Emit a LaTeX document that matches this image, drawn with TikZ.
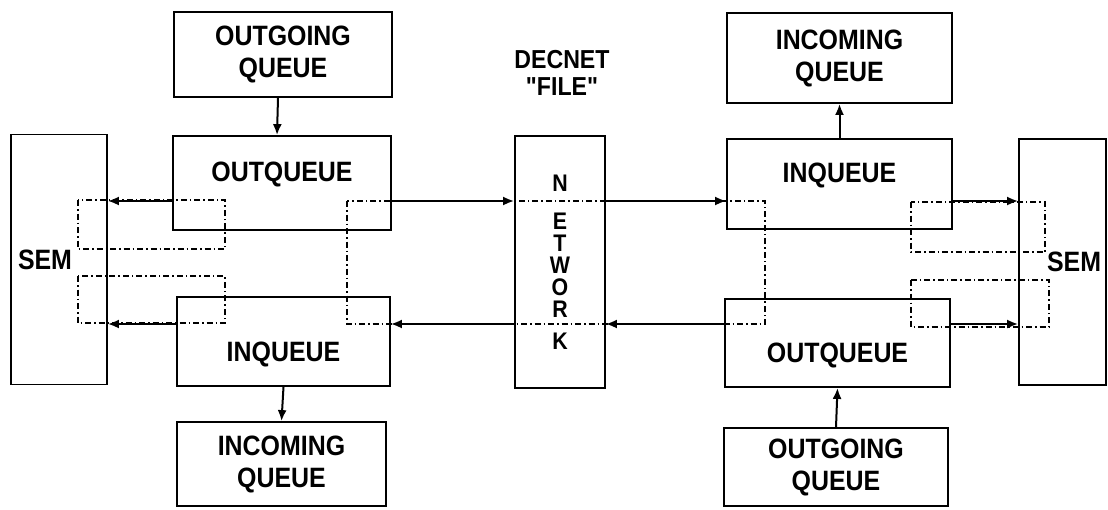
\documentclass[tikz,border=0pt]{standalone}
\usepackage{fontspec}
\setmainfont{Liberation Sans}[FakeStretch=0.89, Ligatures=TeXOff]
\usetikzlibrary{positioning, arrows.meta}

\begin{document}
\begin{tikzpicture}[
  x=1pt, y=-1pt,
  box/.style={
    draw, line width=1.8pt, inner sep=0pt,
    font=\fontsize{28}{32}\selectfont\bfseries, align=center
  },
  qtop/.style={box, text height=21pt, text depth=24pt},
  qbot/.style={box, text height=39pt, text depth=0pt},
  semblock/.style={box, minimum height=246},
  dashloop/.style={line width=1.3pt, dash pattern=on 6pt off 3pt on 1.5pt off 3pt},
  arrow/.style={-{Latex[length=11pt, width=9pt]}, line width=2pt}
]
  \useasboundingbox (0,0) rectangle (1108,509);

  % dash-dot loops
  \draw[dashloop] (78,200) rectangle (225,249);
  \draw[dashloop] (78,276) rectangle (225,323);
  \draw[dashloop] (347,201) rectangle (765,324);
  \draw[dashloop] (911,202) rectangle (1045,252);
  \draw[dashloop] (911,280) rectangle (1049,327);

  \node[semblock, minimum width=96, minimum height=250, text width=82pt, align=left] (SEML) at (59,259.5) {SEM};
  \node[box, minimum width=218, minimum height=85] (OGL) at (283,54.5) {OUTGOING\\QUEUE};
  \node[qtop, minimum width=218, minimum height=94] (OUTL) at (282,183) {OUTQUEUE};
  \node[qbot, minimum width=213, minimum height=89] (INL) at (283.5,341.5) {INQUEUE};
  \node[box, minimum width=209, minimum height=84] (ICL) at (281.5,464) {INCOMING\\QUEUE};

  \node[box, font=\fontsize{24}{22}\selectfont\bfseries, minimum width=90, minimum height=252] (NET) at (560,262) {N\\[16pt]E\\T\\W\\O\\R\\[10pt]K};
  \node[font=\fontsize{26}{27}\selectfont\bfseries, align=center, inner sep=0pt] (DEC) at (562,73) {DECNET\\"FILE"};

  \node[box, minimum width=225, minimum height=90] (ICR) at (839.5,58) {INCOMING\\QUEUE};
  \node[qtop, minimum width=225, minimum height=90] (INR) at (839.5,184) {INQUEUE};
  \node[qbot, minimum width=225, minimum height=88] (OUTR) at (837.5,343) {OUTQUEUE};
  \node[box, minimum width=224, minimum height=78] (OGR) at (836,467) {OUTGOING\\QUEUE};
  \node[semblock, minimum width=87, text width=77pt, align=right] (SEMR) at (1062.5,262) {SEM};

  \coordinate (rowA) at (0,201);
  \coordinate (rowB) at (0,324);

  \draw[arrow] ([xshift=-5pt]OGL.south) -- ([xshift=-5pt]OUTL.north);
  \draw[arrow] (OUTL.west |- rowA) -- (SEML.east |- rowA);
  \draw[arrow] (INL.west |- rowB) -- (SEML.east |- rowB);
  \draw[arrow] (OUTL.east |- rowA) -- (NET.west |- rowA);
  \draw[arrow] (NET.west |- rowB) -- (INL.east |- rowB);
  \draw[arrow] (INL.south) -- (ICL.north);

  \draw[arrow] (NET.east |- rowA) -- (INR.west |- rowA);
  \draw[arrow] (OUTR.west |- rowB) -- (NET.east |- rowB);
  \draw[arrow] (INR.north) -- (ICR.south);
  \draw[arrow] (OGR.north) -- (OUTR.south);
  \draw[arrow] (INR.east |- rowA) -- (SEMR.west |- rowA);
  \draw[arrow] (OUTR.east |- rowB) -- (SEMR.west |- rowB);
\end{tikzpicture}
\end{document}
